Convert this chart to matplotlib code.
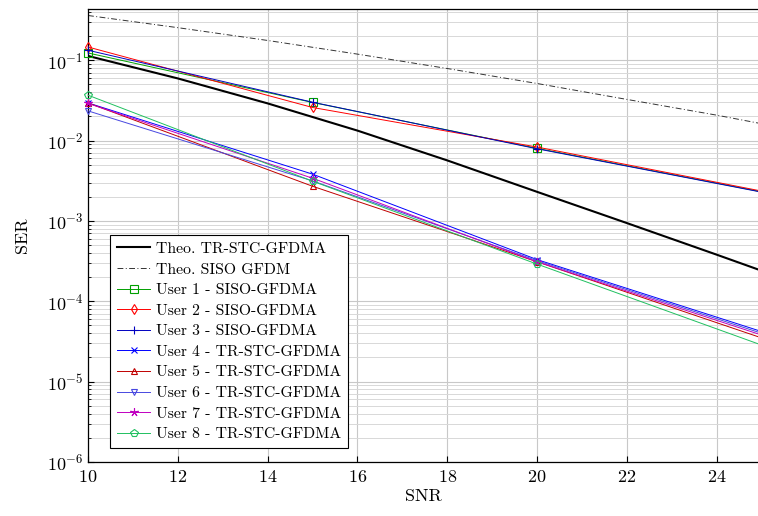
import matplotlib
matplotlib.use('Agg')
import matplotlib.pyplot as plt
from matplotlib.ticker import LogLocator, NullFormatter

plt.rcParams['font.family'] = 'serif'
plt.rcParams['font.serif'] = ['cmr10', 'DejaVu Serif']
plt.rcParams['mathtext.fontset'] = 'cm'
plt.rcParams['axes.unicode_minus'] = False
plt.rcParams['axes.formatter.use_mathtext'] = True

# --- data ---
snr_theo = [10, 12, 14, 16, 18, 20, 22, 24, 25]
ser_theo_stc = [0.113, 0.0593, 0.029, 0.0133, 0.00566, 0.0023, 0.00094, 0.00038, 0.00024]
ser_theo_siso = [0.36, 0.254, 0.176, 0.119, 0.0788, 0.0513, 0.0325, 0.0207, 0.0162]

snr_sim = [10, 15, 20, 25]
ser_user1 = [0.123, 0.0298, 0.0080, 0.00230]
ser_user2 = [0.146, 0.0258, 0.0083, 0.00235]
ser_user3 = [0.133, 0.0300, 0.0079, 0.00228]
ser_user4 = [0.0294, 0.00382, 0.00033, 4.2e-5]
ser_user5 = [0.0294, 0.00270, 0.00031, 3.5e-5]
ser_user6 = [0.0234, 0.00315, 0.00032, 4.0e-5]
ser_user7 = [0.0290, 0.00340, 0.00031, 3.8e-5]
ser_user8 = [0.0367, 0.00312, 0.00029, 2.85e-5]

fig = plt.figure(figsize=(7.58, 5.16), dpi=100)
ax = fig.add_axes([0.1161, 0.1047, 0.8839, 0.8773])

ax.plot(snr_theo, ser_theo_stc, color='black', lw=1.5, label='Theo. TR-STC-GFDMA')
ax.plot(snr_theo, ser_theo_siso, color='#333333', lw=0.7, ls='-.',
        dashes=(6, 2.5, 1, 2.5), label='Theo. SISO GFDM')

users = [
    (ser_user1, 'User 1 - SISO-GFDMA', '#00a000', 's', 5.2),
    (ser_user2, 'User 2 - SISO-GFDMA', '#ff0000', 'd', 5.2),
    (ser_user3, 'User 3 - SISO-GFDMA', '#0000c0', '+', 6),
    (ser_user4, 'User 4 - TR-STC-GFDMA', '#0000ff', 'x', 5),
    (ser_user5, 'User 5 - TR-STC-GFDMA', '#c00000', '^', 5),
    (ser_user6, 'User 6 - TR-STC-GFDMA', '#4848e0', 'v', 5),
    (ser_user7, 'User 7 - TR-STC-GFDMA', '#c000c0', (5, 2, 0), 6),
    (ser_user8, 'User 8 - TR-STC-GFDMA', '#20c060', 'p', 5.5),
]
for vals, lab, col, mk, ms in users:
    # markers are not clipped at the left edge (pgfplots style)
    ax.plot(snr_sim, vals, color=col, lw=0.7, marker=mk, ms=ms,
            mfc='none', mec=col, mew=0.8, label=lab,
            markevery=[0, 1, 2], clip_on=False, zorder=3)

ax.set_yscale('log')
ax.set_xlim(10, 24.92)
ax.set_ylim(1e-6, 0.43)
ax.set_xticks([10, 12, 14, 16, 18, 20, 22, 24])
ax.yaxis.set_major_locator(LogLocator(base=10, numticks=10))
ax.yaxis.set_minor_locator(LogLocator(base=10, subs=range(2, 10), numticks=20))
ax.yaxis.set_minor_formatter(NullFormatter())

ax.grid(True, which='major', color='#c8c8c8', lw=0.8)
ax.grid(True, which='minor', axis='y', color='#d8d8d8', lw=0.7)
ax.set_axisbelow(True)

ax.tick_params(which='both', direction='in', labelsize=13)
ax.tick_params(which='major', length=4)
ax.tick_params(which='minor', length=2)
ax.tick_params(axis='x', pad=5)
ax.spines['right'].set_visible(False)
for s in ['left', 'bottom', 'top']:
    ax.spines[s].set_linewidth(0.9)

ax.set_xlabel('SNR', fontsize=13, labelpad=3)
ax.set_ylabel('SER', fontsize=13, labelpad=12)

leg = ax.legend(loc='lower left', bbox_to_anchor=(0.026, 0.02), fontsize=11.3,
                numpoints=1, handlelength=2.1, handletextpad=0.35,
                fancybox=False, framealpha=1, edgecolor='black',
                borderpad=0.45, labelspacing=0.42, borderaxespad=0.3)
leg.get_frame().set_linewidth(0.8)

fig.savefig('out.png', dpi=100)
